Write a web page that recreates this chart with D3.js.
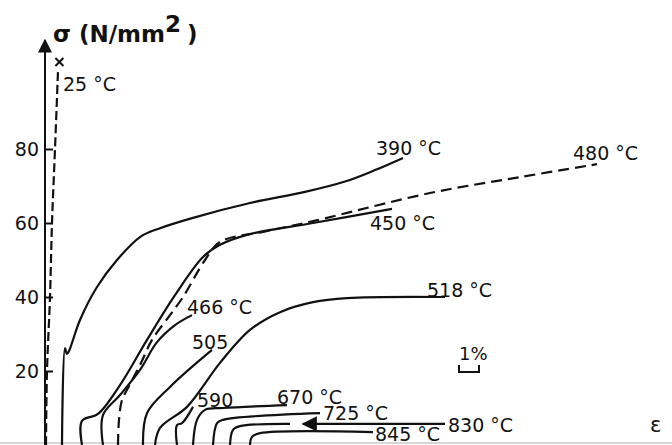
<!DOCTYPE html>
<html>
<head>
<meta charset="utf-8">
<script src="https://cdn.jsdelivr.net/npm/d3@7"></script>
<style>
  body { margin: 0; background: #fff; }
  text { font-family: "DejaVu Sans", sans-serif; fill: #111; }
</style>
</head>
<body>
<svg id="chart"></svg>
<script>
// strain (%) vs stress (N/mm2), each curve shifted along the strain axis
const c25  = [[0.05,0],[0.1,20],[0.25,40],[0.35,60],[0.5,80],[0.65,101]];
const c390 = [[0.85,0],[1.0,26.2],[1.1,24.6],[1.2,25.4],[1.75,33.8],[2.6,42.7],[3.6,50],[4.75,56.2],[5.75,58.6],[7.4,61.4],[10.25,65.4],[13.0,68.4],[15.0,71.2],[16.5,74.3],[17.9,77.6]];
const c450 = [[1.85,0],[1.85,6.5],[2.65,8.4],[3.75,16.2],[5.1,28.4],[6.5,40.5],[7.9,50.8],[8.75,54.1],[10.1,56.8],[13.4,60],[17.35,63.8]];
const c466 = [[2.9,0],[2.9,8.1],[3.75,13.5],[4.75,20.3],[5.6,27.8],[6.5,32.4],[7.35,35.1]];
const c480 = [[3.65,0],[3.7,6.8],[3.85,12.2],[4.1,14.9],[4.75,21.6],[5.35,28.4],[6.25,35.1],[6.9,40],[8.0,50],[8.75,54.9],[10.9,57.6],[13.4,60.5],[19.25,68.1],[23.75,72.4],[27.6,75.9]];
const c505 = [[4.9,0],[5.1,8.6],[6.25,15.7],[8.35,25.7]];
const c518 = [[5.5,0],[5.75,4.6],[7.1,10.3],[8.75,22.2],[10.25,31.1],[11.75,35.9],[13.4,38.6],[15.1,39.7],[20,40]];
const c590 = [[6.6,0],[6.6,5.4],[6.85,5.9],[7.4,10.3]];
const c670 = [[7.4,0],[7.6,6.8],[8.0,9.5],[8.9,10],[12.1,10.8]];
const c725 = [[8.4,0],[8.6,5.9],[8.9,6.8],[13.75,8.6]];
const c830 = [[9.25,0],[9.4,4.1],[9.75,5.1],[12.25,5.7]];
const c830arrow = [[20,5.7],[12.9,5.7]];
const c845 = [[10.25,0],[10.35,2.2],[10.75,3.2],[16.4,3.5]];
const fracture25 = [0.72, 103.5];

const yTicks = [20, 40, 60, 80];

// label text and the (strain, stress) point where it sits
const labels = [
  ["25 °C", 0.9, 95.8], ["390 °C", 16.55, 78.4], ["480 °C", 26.4, 77],
  ["450 °C", 16.25, 58.1], ["518 °C", 19.1, 40], ["466 °C", 7.1, 35.4],
  ["505", 7.35, 26], ["590", 7.6, 10.3], ["670 °C", 11.6, 11.1],
  ["725 °C", 13.9, 6.8], ["830 °C", 20.15, 3.5], ["845 °C", 16.5, 1.1]
];

const W = 672, H = 445;
const svg = d3.select('#chart').attr('width', W).attr('height', H);

const x = d3.scaleLinear().domain([0, 31.35]).range([45, W]);
const y = d3.scaleLinear().domain([0, 100]).range([445, 75]);

svg.append('defs').append('marker')
  .attr('id', 'arr').attr('viewBox', '0 0 10 10')
  .attr('refX', 9).attr('refY', 5)
  .attr('markerWidth', 7).attr('markerHeight', 7)
  .attr('orient', 'auto-start-reverse')
  .append('path').attr('d', 'M0,0 L10,5 L0,10 Z').attr('fill', '#111');

// faint baseline of the scan
svg.append('line')
  .attr('x1', 0).attr('x2', W).attr('y1', 443).attr('y2', 443)
  .attr('stroke', '#c8c8c8').attr('stroke-width', 1.5);

// y axis
svg.append('line')
  .attr('x1', x(0)).attr('x2', x(0)).attr('y1', H).attr('y2', 40)
  .attr('stroke', '#111').attr('stroke-width', 2)
  .attr('marker-end', 'url(#arr)');

const yAxis = svg.append('g')
  .attr('transform', `translate(${x(0)},0)`)
  .call(d3.axisLeft(y).tickValues(yTicks).tickSize(-8).tickPadding(6));
yAxis.select('.domain').remove();
yAxis.selectAll('line').attr('stroke', '#111').attr('stroke-width', 2);
yAxis.selectAll('text')
  .style('font-family', '"DejaVu Sans", sans-serif')
  .style('font-size', '19px').attr('fill', '#111');

const title = svg.append('text')
  .attr('x', 53).attr('y', 42)
  .style('font-size', '23px').style('font-weight', 'bold');
title.append('tspan').text('σ (N/mm');
title.append('tspan').attr('dy', -10).text('2');
title.append('tspan').attr('dy', 10).attr('dx', 6).text(')');

const line = d3.line()
  .x(d => x(d[0])).y(d => y(d[1]))
  .curve(d3.curveCatmullRom.alpha(0.5));

const solid = [c390, c450, c466, c505, c518, c590, c670, c725, c830, c845];
svg.selectAll('.curve')
  .data(solid)
  .enter()
  .append('path')
  .attr('class', 'curve')
  .attr('d', line)
  .attr('fill', 'none').attr('stroke', '#111').attr('stroke-width', 2.2);

svg.append('path').attr('d', line(c480))
  .attr('fill', 'none').attr('stroke', '#111').attr('stroke-width', 2.2)
  .attr('stroke-dasharray', '11 6');

svg.append('path').attr('d', line(c25))
  .attr('fill', 'none').attr('stroke', '#111').attr('stroke-width', 2.2)
  .attr('stroke-dasharray', '9 4');

svg.append('path').attr('d', d3.line().x(d => x(d[0])).y(d => y(d[1]))(c830arrow))
  .attr('fill', 'none').attr('stroke', '#111').attr('stroke-width', 2.2)
  .attr('marker-end', 'url(#arr)');

// fracture cross at the top of the 25 °C curve
const fx = x(fracture25[0]), fy = y(fracture25[1]);
svg.append('path')
  .attr('d', `M${fx - 4},${fy - 4}L${fx + 4},${fy + 4}M${fx + 4},${fy - 4}L${fx - 4},${fy + 4}`)
  .attr('stroke', '#111').attr('stroke-width', 2);

svg.selectAll('.lbl')
  .data(labels)
  .enter()
  .append('text')
  .attr('class', 'lbl')
  .attr('x', d => x(d[1])).attr('y', d => y(d[2]))
  .style('font-size', '19px')
  .text(d => d[0]);

// 1 % strain scale bar
const sb0 = 20.7, sb1 = 21.7;
svg.append('path')
  .attr('d', `M${x(sb0)},365V372H${x(sb1)}V365`)
  .attr('fill', 'none').attr('stroke', '#111').attr('stroke-width', 2);
svg.append('text').attr('x', x(sb0)).attr('y', 360)
  .style('font-size', '18px').text('1%');

svg.append('text').attr('x', 650).attr('y', 432)
  .style('font-size', '21px').text('ε');
</script>
</body>
</html>
